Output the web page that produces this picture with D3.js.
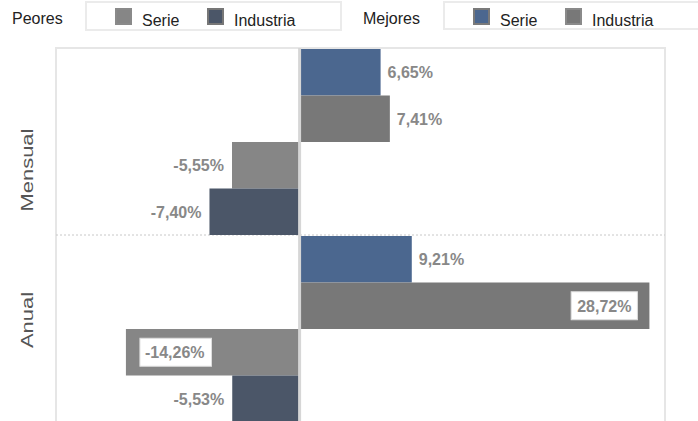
<!DOCTYPE html>
<html>
<head>
<meta charset="utf-8">
<script src="https://cdn.jsdelivr.net/npm/d3@7"></script>
<style>
  body { margin: 0; background: #fff; }
  svg { display: block; font-family: Arial, "Liberation Sans", sans-serif; }
</style>
</head>
<body>
<script>
// datos por periodo
var periods = ["Mensual", "Anual"];
var mejoresSerie = [6.65, 9.21];
var mejoresIndustria = [7.41, 28.72];
var peoresSerie = [-5.55, -14.26];
var peoresIndustria = [-7.40, -5.53];
var seriesNames = ["mejorSerie", "mejorIndustria", "peorSerie", "peorIndustria"];

var colors = {
  mejorSerie: "#4b678f",
  mejorIndustria: "#787878",
  peorSerie: "#868686",
  peorIndustria: "#4b5668"
};

var W = 698, H = 421;
var plotL = 56, plotR = 665, plotT = 48, panelH = 187;

var svg = d3.select("body").append("svg")
  .attr("width", W)
  .attr("height", H);

var es = d3.formatLocale({ decimal: ",", thousands: ".", grouping: [3], currency: ["", "€"], minus: "-" });
var fmt = function(v) { return es.format(".2f")(v) + "%"; };

var x = d3.scaleLinear().domain([-20, 30]).range([plotL, plotR]);
var yPanel = d3.scaleBand().domain(periods).range([plotT, plotT + panelH * periods.length]);
var yBar = d3.scaleBand().domain(seriesNames).range([1, panelH]);

var rows = [];
periods.forEach(function(p, i) {
  rows.push({ period: p, key: "mejorSerie", value: mejoresSerie[i] });
  rows.push({ period: p, key: "mejorIndustria", value: mejoresIndustria[i] });
  rows.push({ period: p, key: "peorSerie", value: peoresSerie[i] });
  rows.push({ period: p, key: "peorIndustria", value: peoresIndustria[i] });
});

// ---- legend ----
var legend = svg.append("g");
legend.append("text").attr("x", 12).attr("y", 24).attr("font-size", 16).attr("fill", "#222").text("Peores");
legend.append("rect").attr("x", 86).attr("y", 2).attr("width", 255).attr("height", 28)
  .attr("fill", "#fff").attr("stroke", "#ebebeb").attr("stroke-width", 2);
legend.append("text").attr("x", 363).attr("y", 24).attr("font-size", 16).attr("fill", "#222").text("Mejores");
legend.append("rect").attr("x", 444).attr("y", 2).attr("width", 270).attr("height", 27)
  .attr("fill", "#fff").attr("stroke", "#ebebeb").attr("stroke-width", 2);

var legendItems = [
  { x: 115, label: "Serie", key: "peorSerie", border: "#8a8a8a" },
  { x: 207, label: "Industria", key: "peorIndustria", border: "#777" },
  { x: 473, label: "Serie", key: "mejorSerie", border: "#7a7a7a" },
  { x: 565, label: "Industria", key: "mejorIndustria", border: "#8a8a8a" }
];
var li = legend.selectAll("g.item").data(legendItems).enter().append("g").attr("class", "item");
li.append("rect")
  .attr("x", function(d) { return d.x + 1; })
  .attr("y", 9)
  .attr("width", 15).attr("height", 15)
  .attr("fill", function(d) { return colors[d.key]; })
  .attr("stroke", function(d) { return d.border; })
  .attr("stroke-width", 2);
li.append("text")
  .attr("x", function(d) { return d.x + 27; })
  .attr("y", 26)
  .attr("font-size", 16)
  .attr("fill", "#222")
  .text(function(d) { return d.label; });

// ---- plot frame ----
var plot = svg.append("g");
plot.append("path")
  .attr("d", "M" + plotL + "," + H + "V" + plotT + "H" + plotR + "V" + H)
  .attr("fill", "none").attr("stroke", "#e6e6e6").attr("stroke-width", 2);

// separadores punteados
plot.selectAll("line.sep").data(periods).enter().append("line")
  .attr("class", "sep")
  .attr("x1", plotL).attr("x2", plotR)
  .attr("y1", function(d) { return yPanel(d) + panelH; })
  .attr("y2", function(d) { return yPanel(d) + panelH; })
  .attr("stroke", "#c8c8c8").attr("stroke-dasharray", "2,2");

// etiquetas de periodo
var labelShift = { Mensual: 122, Anual: 85 };
plot.selectAll("text.period").data(periods).enter().append("text")
  .attr("class", "period")
  .attr("transform", function(d) {
    return "translate(33," + (yPanel(d) + labelShift[d]) + ") rotate(-90) scale(1.37,1)";
  })
  .attr("text-anchor", "middle")
  .attr("font-size", 16)
  .attr("fill", "#555")
  .text(function(d) { return d; });

// ---- bars ----
plot.selectAll("rect.bar").data(rows).enter().append("rect")
  .attr("class", "bar")
  .attr("x", function(d) { return x(Math.min(0, d.value)); })
  .attr("width", function(d) { return Math.abs(x(d.value) - x(0)); })
  .attr("y", function(d) { return yPanel(d.period) + yBar(d.key); })
  .attr("height", yBar.bandwidth())
  .attr("fill", function(d) { return colors[d.key]; });

// linea del cero
plot.append("line")
  .attr("x1", x(0)).attr("x2", x(0))
  .attr("y1", plotT).attr("y2", H)
  .attr("stroke", "#d6d6d6").attr("stroke-width", 3);

// ---- value labels ----
// si la etiqueta no cabe fuera de la barra va dentro, en una caja blanca
var labels = plot.selectAll("g.lab").data(rows).enter().append("g").attr("class", "lab");
labels.each(function(d) {
  var g = d3.select(this);
  var cy = yPanel(d.period) + yBar(d.key) + yBar.bandwidth() / 2;
  var t = g.append("text")
    .attr("font-size", 16).attr("font-weight", "bold").attr("fill", "#888")
    .attr("y", cy + 6)
    .text(fmt(d.value));
  var w = t.node().getComputedTextLength();
  var end = x(d.value);
  if (d.value >= 0) {
    if (end + 7 + w < plotR - 10) {
      t.attr("x", end + 7);
    } else {
      t.attr("x", end - 12 - 6 - w);
      g.insert("rect", "text")
        .attr("x", end - 12 - 12 - w).attr("y", cy - 14)
        .attr("width", w + 12).attr("height", 28)
        .attr("fill", "#fff").attr("stroke", "#ddd");
    }
  } else {
    if (end - 8 - w > plotL + 10) {
      t.attr("x", end - 8 - w);
    } else {
      t.attr("x", end + 14 + 5);
      g.insert("rect", "text")
        .attr("x", end + 14).attr("y", cy - 14)
        .attr("width", w + 12).attr("height", 28)
        .attr("fill", "#fff").attr("stroke", "#ddd");
    }
  }
});
</script>
</body>
</html>
